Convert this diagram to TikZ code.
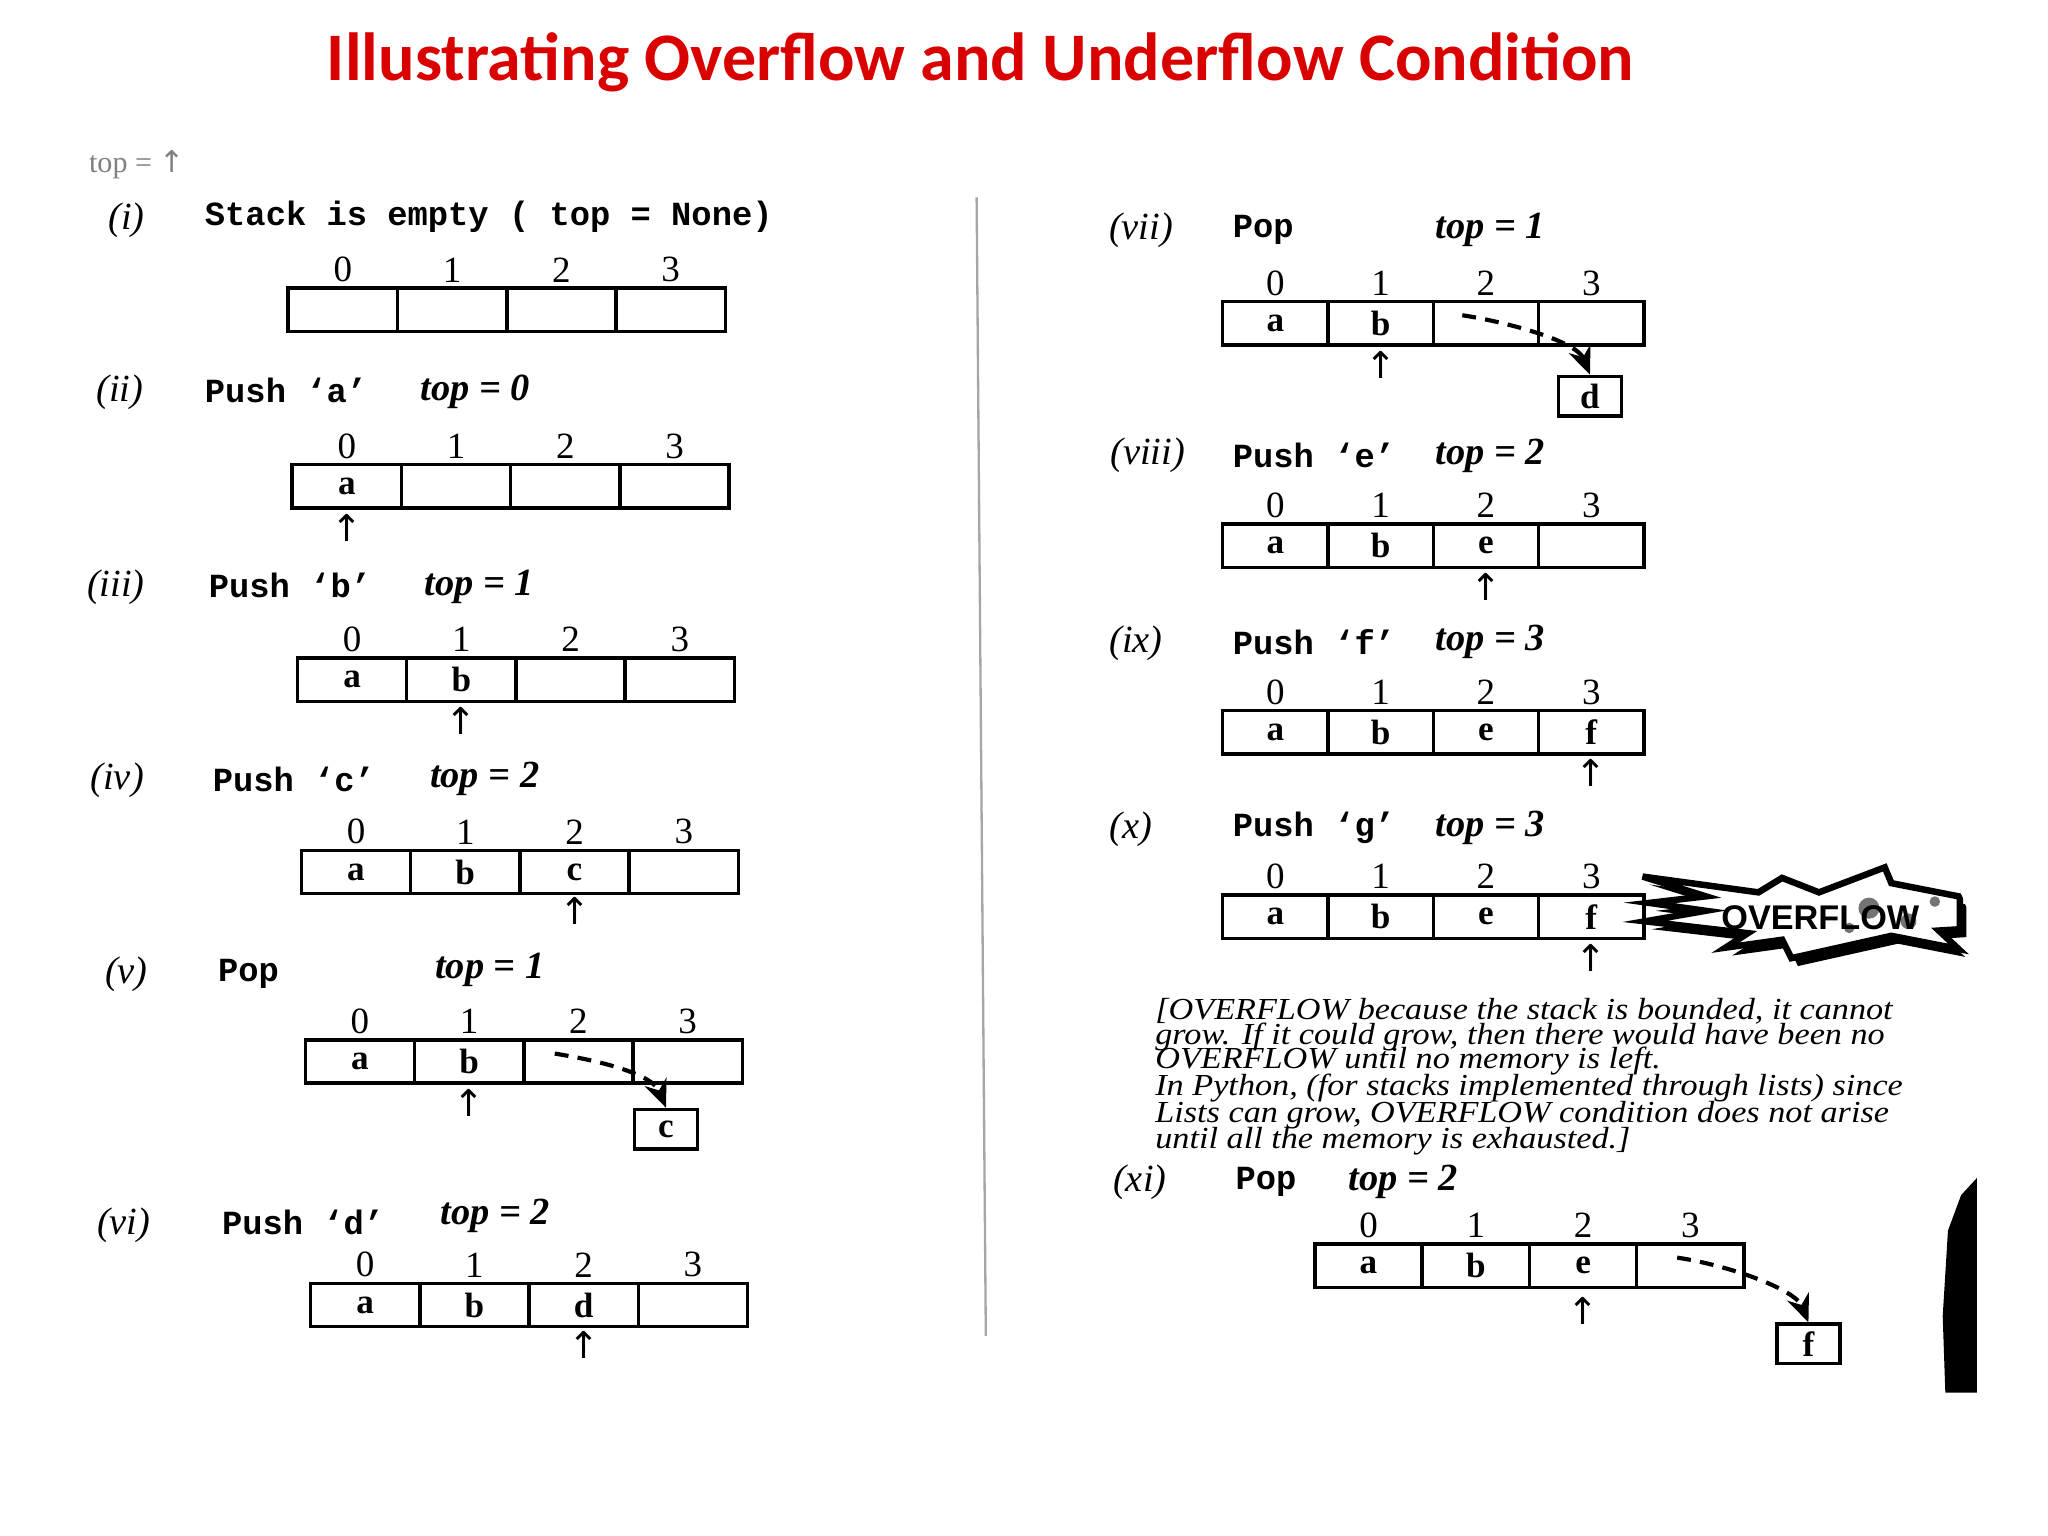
\documentclass[tikz,border=0pt]{standalone}
\usepackage{fontspec}
\setmainfont{Liberation Serif}
\newfontfamily\titlefont{Carlito}
\newfontfamily\monof{Liberation Mono}
\newfontfamily\dejavu{DejaVu Sans}
\newfontfamily\sansf{Liberation Sans}
\usetikzlibrary{arrows.meta,calc}
\tikzset{
 cell/.style={draw,line width=0.75pt,minimum height=0.33cm,inner sep=0pt,font=\fontsize{7.6}{7.6}\selectfont\bfseries},
 idx/.style={inner sep=0pt,font=\fontsize{8}{8}\selectfont},
 rlab/.style={inner sep=0pt,font=\fontsize{8.3}{8.3}\selectfont\itshape},
 oplab/.style={anchor=west,inner sep=0pt,font=\fontsize{7.3}{7.3}\selectfont\monof\bfseries},
 toplab/.style={anchor=west,inner sep=0pt,font=\fontsize{8.3}{8.3}\selectfont\bfseries\itshape},
 arr/.style={inner sep=0pt,font=\fontsize{8}{8}\selectfont\dejavu},
 popbox/.style={draw,line width=0.75pt,minimum width=0.48cm,minimum height=0.3cm,inner sep=0pt,font=\fontsize{7.6}{7.6}\selectfont\bfseries},
 popline/.style={line width=0.9pt,dashed,dash pattern=on 3pt off 2pt,-{Stealth[length=6pt,width=5pt]}},
 para/.style={anchor=west,inner sep=0pt,xscale=1.12,font=\fontsize{6.6}{6.6}\selectfont\itshape},
}
\newcommand\stk[8]{%
 \foreach \i/\t in {0/#4,1/#5,2/#6,3/#7}{%
  \node[cell,minimum width=#8 cm] (#1c\i) at ({#2+#8*50+#8*100*\i},{#3+16.5}) {\t};
  \node[idx] (#1i\i) at ({#2+#8*50+#8*100*\i},{#3-14}) {\i};}}
\begin{document}
\begin{tikzpicture}[x=0.01cm,y=-0.01cm]
\useasboundingbox (0,0) rectangle (1556,1167);
\node[inner sep=0pt,text=red!85!black,font=\fontsize{14.7}{14.7}\selectfont\titlefont\bfseries] (title) at (745,47) {Illustrating Overflow and Underflow Condition};
\node[anchor=west,inner sep=0pt,text=gray,font=\fontsize{6.5}{6.5}\selectfont] (topnote) at (67,125) {top = {\dejavu ↑}};
\coordinate (d1) at (742,150); \coordinate (d2) at (749,1015);
\draw[gray!70,line width=0.5pt] (d1) -- (d2);
% (i)
\node[rlab] (ri) at (96,167) {(i)};
\node[oplab] (oi) at (155,165) {Stack is empty ( top = None)};
\stk{i}{219}{219}{}{}{}{}{0.83}
% (ii)
\node[rlab] (rii) at (91,298) {(ii)};
\node[oplab] (oii) at (155,297) {Push ‘a’};
\node[toplab] (tii) at (319,298) {top = 0};
\stk{ii}{222}{353}{a}{}{}{}{0.83}
\node[arr] (aii) at (iic0.center |- 0,401) {↑};
% (iii)
\node[rlab] (riii) at (88,446) {(iii)};
\node[oplab] (oiii) at (158,445) {Push ‘b’};
\node[toplab] (tiii) at (322,446) {top = 1};
\stk{iii}{226}{500}{a}{b}{}{}{0.83}
\node[arr] (aiii) at (iiic1.center |- 0,548) {↑};
% (iv)
\node[rlab] (riv) at (89,593) {(iv)};
\node[oplab] (oiv) at (161,592) {Push ‘c’};
\node[toplab] (tiv) at (326,592) {top = 2};
\stk{iv}{229}{646}{a}{b}{c}{}{0.83}
\node[arr] (aiv) at (ivc2.center |- 0,692) {↑};
% (v)
\node[rlab] (rv) at (96,740) {(v)};
\node[oplab] (ov) at (165,740) {Pop};
\node[toplab] (tv) at (330,737) {top = 1};
\stk{v}{232}{790}{a}{b}{}{}{0.83}
\node[arr] (av) at (vc1.center |- 0,838) {↑};
\node[popbox] (vp) at (506,858) {c};
\draw[popline] ($(vc2.center)+(-18,-6)$) .. controls ($(vc2.center)+(20,0)$) and ($(vp.north)+(-10,-25)$) .. (vp.north);
% (vi)
\node[rlab] (rvi) at (94,931) {(vi)};
\node[oplab] (ovi) at (168,929) {Push ‘d’};
\node[toplab] (tvi) at (334,924) {top = 2};
\stk{vi}{236}{975}{a}{b}{d}{}{0.83}
\node[arr] (avi) at (vic2.center |- 0,1022) {↑};
% (vii)
\node[rlab] (rvii) at (867,175) {(vii)};
\node[oplab] (ovii) at (936,175) {Pop};
\node[toplab] (tvii) at (1090,175) {top = 1};
\stk{vii}{929}{229}{a}{b}{}{}{0.80}
\node[arr] (avii) at (viic1.center |- 0,277) {↑};
\node[popbox] (viip) at (1208,301) {d};
\draw[popline] ($(viic2.center)+(-18,-6)$) .. controls ($(viic2.center)+(20,0)$) and ($(viip.north)+(-10,-25)$) .. (viip.north);
% (viii)
\node[rlab] (rviii) at (872,346) {(viii)};
\node[oplab] (oviii) at (936,346) {Push ‘e’};
\node[toplab] (tviii) at (1090,346) {top = 2};
\stk{viii}{929}{398}{a}{b}{e}{}{0.80}
\node[arr] (aviii) at (viiic2.center |- 0,446) {↑};
% (ix)
\node[rlab] (rix) at (863,489) {(ix)};
\node[oplab] (oix) at (936,488) {Push ‘f’};
\node[toplab] (tix) at (1090,488) {top = 3};
\stk{ix}{929}{540}{a}{b}{e}{f}{0.80}
\node[arr] (aix) at (ixc3.center |- 0,587) {↑};
% (x)
\node[rlab] (rx) at (859,630) {(x)};
\node[oplab] (ox) at (936,629) {Push ‘g’};
\node[toplab] (tx) at (1090,629) {top = 3};
\stk{x}{929}{680}{a}{b}{e}{f}{0.80}
\node[arr] (ax) at (xc3.center |- 0,728) {↑};
% burst
\def\burst{(1248,666)--(1336,678)--(1354,667)--(1382,678)--(1432,659)--(1437,671)--(1488,681)--(1489,683)--(1489,706)--(1473,707)--(1488,721)--(1437,711)--(1361,728)--(1354,714)--(1311,720)--(1328,709)--(1250,700)--(1296,692)--(1253,686)--(1296,681)--cycle}
\fill[black,shift={(5,6)}] \burst;
\draw[line width=1.4pt,fill=white] \burst;
\fill[black!55] (1420,690) circle (8) (1450,700) circle (6) (1470,685) circle (4) (1405,705) circle (4);
\node[inner sep=0pt,font=\fontsize{7.4}{7.4}\selectfont\sansf\bfseries] (ovf) at (1383,697) {OVERFLOW};
% paragraph
\node[para] (p1) at (877,768) {[OVERFLOW because the stack is bounded, it cannot};
\node[para] (p2) at (877,788) {grow. If it could grow, then there would have been no};
\node[para] (p3) at (877,806) {OVERFLOW until no memory is left.};
\node[para] (p4) at (877,827) {In Python, (for stacks implemented through lists) since};
\node[para] (p5) at (877,847) {Lists can grow, OVERFLOW condition does not arise};
\node[para] (p6) at (877,867) {until all the memory is exhausted.]};
% (xi)
\node[rlab] (rxi) at (866,898) {(xi)};
\node[oplab] (oxi) at (938,898) {Pop};
\node[toplab] (txi) at (1024,898) {top = 2};
\stk{xi}{999}{945}{a}{b}{e}{}{0.815}
\node[arr] (axi) at (xic2.center |- 0,996) {↑};
\node[popbox] (xip) at (1374,1021) {f};
\draw[popline] ($(xic3.center)+(-10,-6)$) .. controls ($(xic3.center)+(30,0)$) and ($(xip.north)+(-10,-25)$) .. (xip.north);
% scan blob
\fill[black] (1502,895) -- (1490,908) -- (1480,935) -- (1476,1000) -- (1478,1058) -- (1502,1058) -- cycle;
\end{tikzpicture}
\end{document}
